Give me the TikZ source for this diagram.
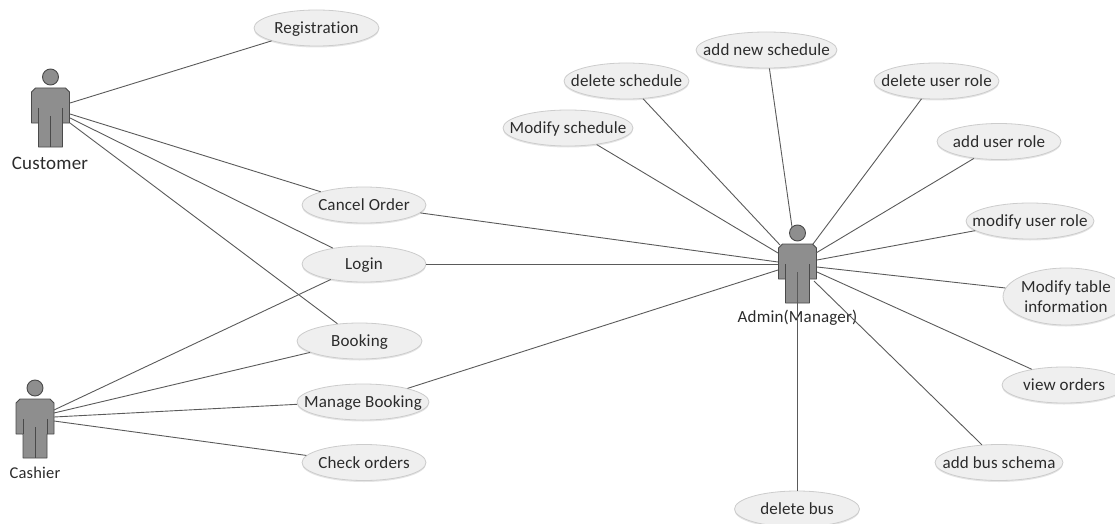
\documentclass[tikz,border=0pt]{standalone}
\usepackage{fontspec}
\setmainfont{Carlito}[Ligatures=NoCommon,LetterSpace=1.0]
\usetikzlibrary{shapes.geometric,shadows}
\definecolor{inkc}{HTML}{2B2B2B}
\definecolor{linec}{HTML}{5A5A5A}
\definecolor{usefill}{HTML}{EFEFEF}
\definecolor{useedge}{HTML}{CCCCCC}
\definecolor{actfill}{HTML}{8E8E8E}
\definecolor{actedge}{HTML}{4A4A4A}
\tikzset{
  usecase/.style={ellipse,draw=useedge,fill=usefill,line width=.8pt,inner sep=0pt,
    minimum width=#1,minimum height=36,align=center,text=inkc,
    font=\fontsize{17}{20}\selectfont,
    drop shadow={shadow xshift=0pt,shadow yshift=-1.5pt,fill=black,opacity=.10}},
  usecase/.default=125,
  link/.style={draw=linec,line width=.9pt},
  figure/.style={draw=actedge,fill=actfill,line width=.9pt,line join=round},
  figline/.style={draw=actedge,line width=.9pt},
  actorname/.style={text=inkc,inner sep=0pt},
}
\newcommand{\ut}[1]{\makebox[0pt][c]{\raisebox{0pt}[11.5pt][0pt]{#1}}}
% #1 = x of the centre line, #2 = y of the head centre
\newcommand{\stickman}[2]{%
  \draw[figure] (#1,#2) circle[radius=8];
  \draw[figure] (#1-15,#2+11) -- (#1+15,#2+11) -- (#1+19,#2+15) -- (#1+19,#2+46)
    -- (#1+12,#2+46) -- (#1+12,#2+70) -- (#1-12,#2+70) -- (#1-12,#2+46)
    -- (#1-19,#2+46) -- (#1-19,#2+15) -- cycle;
  \draw[figline] (#1-12,#2+31) -- (#1-12,#2+46);
  \draw[figline] (#1+12,#2+31) -- (#1+12,#2+46);
  \draw[figline] (#1,#2+39) -- (#1,#2+70);
}
\begin{document}
\begin{tikzpicture}[x=1pt,y=-1pt]
\useasboundingbox (0,0) rectangle (1115,524);
\clip (0,0) rectangle (1115,524);
\stickman{50.5}{77}
\stickman{35}{388}
\stickman{797.5}{233}
\node[actorname,font=\fontsize{19}{22}\selectfont] (custname) at (50,163) {Customer};
\node[actorname,font=\fontsize{16.5}{20}\selectfont] (cashname) at (35,473) {Cashier};
\node[actorname,font=\fontsize{17}{21}\selectfont] (adminname) at (797.5,318) {Admin(Manager)};

\node[usecase] (reg) at (316.5,28) {\ut{Registration}};
\node[usecase=124] (cancel) at (364,205) {\ut{Cancel Order}};
\node[usecase=124] (login) at (364,264) {\ut{Login}};
\node[usecase=125] (booking) at (359.5,341) {\ut{Booking}};
\node[usecase=132] (manage) at (363,402) {\ut{Manage Booking}};
\node[usecase=124] (check) at (364,462.5) {\ut{Check orders}};
\node[usecase=141] (addsch) at (766.5,50) {\ut{add new schedule}};
\node[usecase=125] (delsch) at (626.5,81) {\ut{delete schedule}};
\node[usecase=130] (modsch) at (568,128) {\ut{Modify schedule}};
\node[usecase=125] (delrole) at (936.5,81) {\ut{delete user role}};
\node[usecase=124] (addrole) at (999,141.5) {\ut{add user role}};
\node[usecase=128] (modrole) at (1030,221) {\ut{modify user role}};
\node[usecase=126,minimum height=57] (modtab) at (1066,296.5) {\ut{Modify table}\\\ut{information}};
\node[usecase=124] (view) at (1064,385) {\ut{view orders}};
\node[usecase=128] (addbus) at (999,462.5) {\ut{add bus schema}};
\node[usecase=125] (delbus) at (797,509) {\ut{delete bus}};

\coordinate (c1) at (70,103);
\coordinate (c2) at (70,114);
\coordinate (c3) at (70,118);
\coordinate (c4) at (70,123);
\coordinate (k1) at (54,410);
\coordinate (k2) at (54,413);
\coordinate (k3) at (54,417);
\coordinate (k4) at (54,421);
\coordinate (aschA) at (780,245);
\coordinate (aschB) at (778,253);
\coordinate (acan) at (778,262);
\coordinate (alog) at (778,264);
\coordinate (aman) at (778,270);
\coordinate (aadd) at (792,227);
\coordinate (adelr) at (813,244);
\coordinate (aaddr) at (816,253);
\coordinate (amodr) at (817,260);
\coordinate (amodt) at (817,267);
\coordinate (aview) at (817,272);
\coordinate (abus) at (814,281);
\coordinate (adelb) at (797,272);

\draw[link] (c1) -- (reg.196.6);
\draw[link] (c2) -- (cancel.163.5);
\draw[link] (c3) -- (login.153.4);
\draw[link] (c4) -- (booking.142.9);
\draw[link] (k1) -- (login.205.2);
\draw[link] (k2) -- (booking.193.9);
\draw[link] (k3) -- (manage.182.7);
\draw[link] (k4) -- (check.173);
\draw[link] (acan) -- (cancel.-8.1);
\draw[link] (alog) -- (login.0);
\draw[link] (aman) -- (manage.17.7);
\draw[link] (aschA) -- (delsch.-47.5);
\draw[link] (aschB) -- (modsch.-30.4);
\draw[link] (aadd) -- (addsch.-81);
\draw[link] (adelr) -- (delrole.230.5);
\draw[link] (aaddr) -- (addrole.214.4);
\draw[link] (amodr) -- (modrole.190.5);
\draw[link] (amodt) -- (modtab.172.8);
\draw[link] (aview) -- (view.154.8);
\draw[link] (abus) -- (addbus.134);
\draw[link] (adelb) -- (delbus.90);
\end{tikzpicture}
\end{document}
